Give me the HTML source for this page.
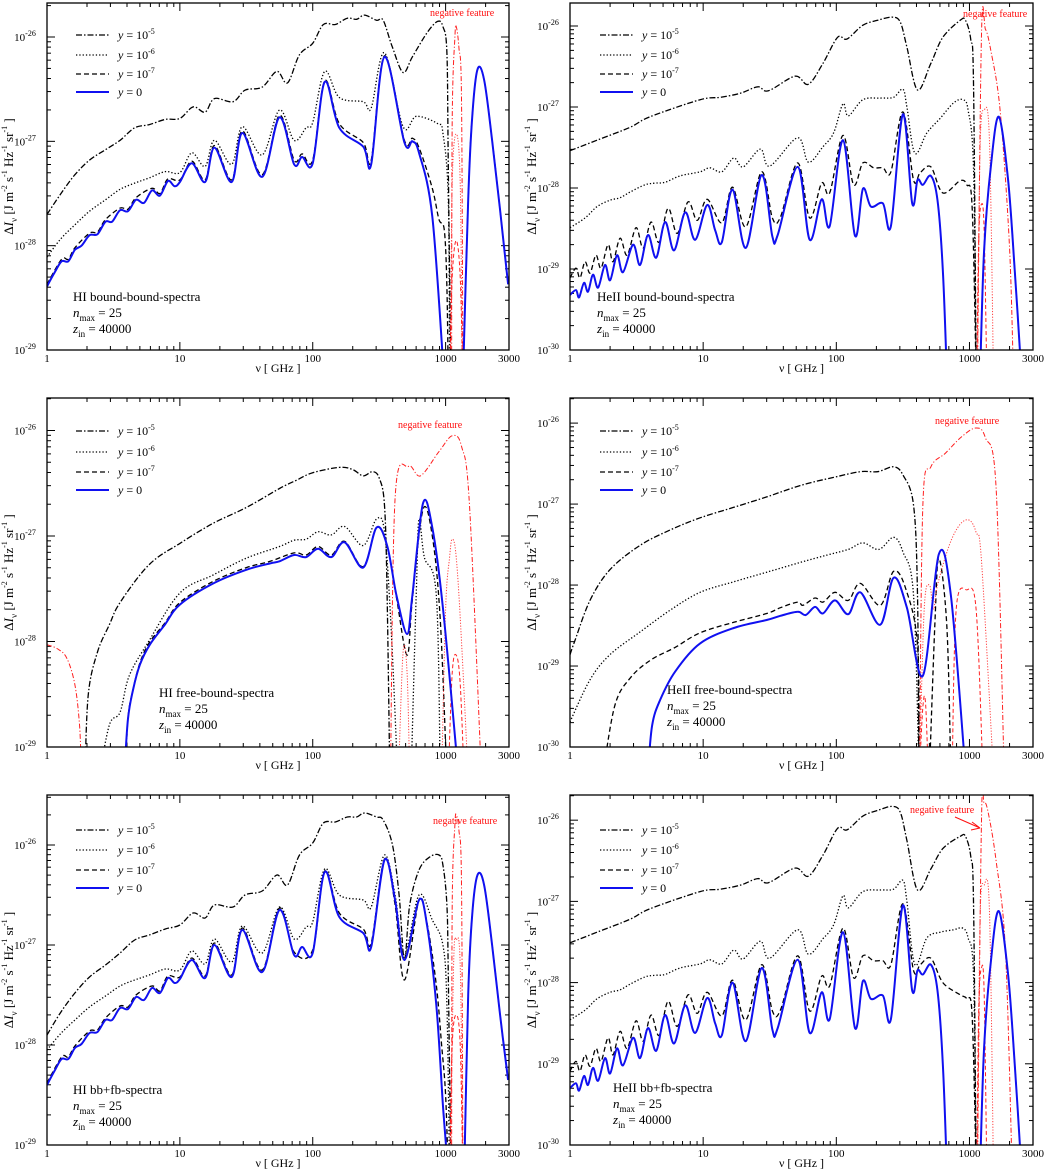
<!DOCTYPE html>
<html><head><meta charset="utf-8"><style>
html,body{margin:0;padding:0;background:#fff;}
svg{display:block;font-family:"Liberation Serif",serif;}
</style></head><body>
<svg id="fig" width="1044" height="1171" viewBox="0 0 1044 1171" xmlns="http://www.w3.org/2000/svg"></svg>
<script>
// ===== Data (log10 nu [GHz], log10 DeltaI) =====
// --- Top-left: HI bound-bound ---
const tlBlue=[[0,-28.39],[.06,-28.25],[.11,-28.15],[.16,-28.15],[.21,-28.04],[.26,-28.0],[.32,-27.9],[.38,-27.89],[.44,-27.77],[.49,-27.77],[.55,-27.66],[.61,-27.67],[.67,-27.56],[.73,-27.59],[.79,-27.47],[.85,-27.52],[.91,-27.38],[.96,-27.43],[1.0,-27.39],[1.09,-27.21],[1.19,-27.39],[1.26,-27.06],[1.39,-27.39],[1.47,-26.92],[1.62,-27.34],[1.75,-26.77],[1.86,-27.22],[1.92,-27.15],[2.0,-27.21],[2.09,-26.43],[2.2,-26.87],[2.38,-27.05],[2.44,-27.22],[2.54,-26.19],[2.69,-27.01],[2.75,-27.0],[2.8,-27.11],[2.9,-27.72],[2.99,-29.3]];
const tlRight=[[3.13,-29.3],[3.17,-27.56],[3.2,-26.77],[3.24,-26.31],[3.29,-26.41],[3.35,-26.99],[3.41,-27.66],[3.47,-28.37]];
const tlDashed=[[0,-28.37],[.11,-28.13],[.16,-28.13],[.21,-28.02],[.32,-27.88],[.38,-27.87],[.44,-27.75],[.55,-27.64],[.61,-27.65],[.67,-27.54],[.79,-27.45],[.85,-27.5],[.91,-27.36],[1.0,-27.37],[1.09,-27.19],[1.19,-27.37],[1.26,-27.04],[1.39,-27.37],[1.47,-26.9],[1.62,-27.32],[1.75,-26.75],[1.86,-27.18],[1.92,-27.12],[2.0,-27.18],[2.09,-26.42],[2.2,-26.83],[2.38,-27.01],[2.44,-27.18],[2.54,-26.18],[2.69,-26.99],[2.75,-26.97],[2.8,-27.06],[2.9,-27.45],[2.95,-27.75],[2.99,-27.85],[3.01,-28.4],[3.02,-29.3]];
const tlDashedNeg=[[3.03,-29.3],[3.05,-28.3],[3.08,-27.95],[3.11,-28.3],[3.13,-29.3]];
const tlDotted=[[0,-28.11],[.1,-27.94],[.21,-27.8],[.32,-27.67],[.44,-27.56],[.55,-27.46],[.66,-27.4],[.77,-27.35],[.89,-27.29],[1.0,-27.3],[1.09,-27.11],[1.19,-27.24],[1.26,-26.99],[1.39,-27.22],[1.47,-26.86],[1.62,-27.13],[1.75,-26.7],[1.86,-26.99],[1.95,-26.87],[2.0,-26.82],[2.09,-26.33],[2.2,-26.58],[2.38,-26.62],[2.44,-26.68],[2.54,-26.15],[2.68,-26.86],[2.78,-26.76],[2.94,-26.83],[2.98,-26.92],[3.02,-27.56],[3.03,-29.3]];
const tlDottedNeg=[[3.035,-29.3],[3.05,-27.4],[3.08,-26.93],[3.11,-27.4],[3.125,-29.3]];
const tlDashDot=[[0,-27.7],[.1,-27.51],[.21,-27.32],[.32,-27.18],[.44,-27.08],[.55,-26.99],[.66,-26.87],[.77,-26.84],[.89,-26.79],[1.0,-26.78],[1.1,-26.67],[1.19,-26.72],[1.26,-26.59],[1.4,-26.62],[1.49,-26.51],[1.62,-26.48],[1.73,-26.33],[1.81,-26.44],[1.9,-26.17],[2.0,-26.06],[2.08,-25.88],[2.17,-25.88],[2.26,-25.82],[2.33,-25.83],[2.39,-25.79],[2.48,-25.84],[2.53,-25.84],[2.6,-26.1],[2.68,-26.34],[2.75,-26.19],[2.86,-25.96],[2.94,-25.85],[2.98,-25.9],[3.01,-26.15],[3.02,-27.24],[3.04,-29.3]];
const tlDashDotNeg=[[3.045,-29.3],[3.05,-26.8],[3.07,-26.0],[3.08,-25.9],[3.1,-26.1],[3.12,-26.6],[3.13,-29.3]];

// --- Top-right: HeII bound-bound ---
const trBlue=[[0,-29.32],[.045,-29.26],[.068,-29.35],[.105,-29.17],[.135,-29.28],[.173,-29.07],[.211,-29.23],[.263,-28.95],[.301,-29.14],[.353,-28.83],[.398,-29.04],[.474,-28.7],[.526,-28.95],[.586,-28.58],[.647,-28.86],[.714,-28.42],[.782,-28.77],[.865,-28.3],[.94,-28.64],[1.03,-28.21],[1.09,-28.52],[1.14,-28.67],[1.22,-28.02],[1.32,-28.74],[1.44,-27.84],[1.52,-28.6],[1.56,-28.58],[1.71,-27.74],[1.8,-28.64],[1.89,-28.14],[1.95,-28.47],[2.05,-27.41],[2.14,-28.59],[2.2,-28.01],[2.26,-28.23],[2.35,-28.19],[2.41,-28.47],[2.5,-27.09],[2.57,-28.19],[2.61,-27.9],[2.65,-27.96],[2.71,-27.85],[2.76,-28.15],[2.8,-29.01],[2.83,-30.3]];
const trRight=[[3.08,-30.3],[3.11,-28.77],[3.16,-27.74],[3.22,-27.12],[3.29,-27.9],[3.34,-29.01],[3.39,-30.3]];
const trDashed=[[0,-29.11],[.045,-28.99],[.075,-29.11],[.113,-28.91],[.15,-29.05],[.195,-28.83],[.233,-28.99],[.286,-28.7],[.323,-28.91],[.376,-28.62],[.429,-28.83],[.496,-28.49],[.549,-28.74],[.609,-28.42],[.669,-28.67],[.737,-28.25],[.805,-28.56],[.887,-28.17],[.955,-28.4],[1.03,-28.14],[1.14,-28.43],[1.22,-27.99],[1.32,-28.48],[1.44,-27.8],[1.52,-28.37],[1.58,-28.36],[1.71,-27.69],[1.8,-28.37],[1.89,-27.94],[1.95,-28.06],[2.05,-27.35],[2.13,-27.96],[2.2,-27.69],[2.28,-27.75],[2.35,-27.75],[2.41,-27.8],[2.5,-27.06],[2.58,-27.9],[2.63,-27.81],[2.71,-27.74],[2.8,-28.06],[2.93,-27.91],[2.98,-27.96],[3.02,-28.23],[3.05,-30.3]];
const trDashedNeg=[[3.055,-30.3],[3.07,-28.6],[3.09,-28.2],[3.11,-28.5],[3.13,-30.3]];
const trDotted=[[0,-28.49],[.113,-28.37],[.203,-28.23],[.301,-28.15],[.376,-28.12],[.451,-28.05],[.564,-27.96],[.639,-27.94],[.714,-27.93],[.827,-27.85],[.977,-27.8],[1.05,-27.75],[1.14,-27.8],[1.23,-27.63],[1.3,-27.74],[1.43,-27.52],[1.5,-27.73],[1.71,-27.38],[1.79,-27.68],[1.9,-27.49],[1.98,-27.32],[2.05,-26.96],[2.09,-27.11],[2.2,-26.91],[2.33,-26.89],[2.43,-26.88],[2.5,-26.78],[2.53,-27.0],[2.59,-27.57],[2.68,-27.32],[2.78,-27.14],[2.88,-26.95],[2.95,-26.91],[2.99,-27.04],[3.03,-27.74],[3.05,-30.3]];
const trDottedNeg=[[3.06,-30.3],[3.08,-27.5],[3.11,-27.04],[3.15,-27.4],[3.18,-30.3]];
const trDashDot=[[0,-27.54],[.203,-27.41],[.451,-27.25],[.602,-27.12],[.977,-26.91],[1.13,-26.88],[1.28,-26.83],[1.41,-26.75],[1.49,-26.8],[1.69,-26.62],[1.79,-26.72],[1.9,-26.46],[2.01,-26.14],[2.08,-26.16],[2.2,-25.99],[2.31,-25.93],[2.42,-25.89],[2.48,-25.95],[2.53,-26.26],[2.61,-26.79],[2.71,-26.46],[2.8,-26.14],[2.93,-25.93],[2.97,-25.93],[3.01,-26.17],[3.03,-26.7],[3.05,-30.3]];
const trDashDotNeg=[[3.06,-30.3],[3.09,-26.1],[3.12,-26.04],[3.16,-26.3],[3.23,-27.04],[3.3,-28.7],[3.33,-30.3]];

// --- Middle-left: HI free-bound ---
const mlBlue=[[.58,-29.3],[.609,-28.74],[.647,-28.46],[.699,-28.22],[.774,-28.03],[.887,-27.84],[1.0,-27.65],[1.25,-27.45],[1.5,-27.32],[1.68,-27.26],[1.75,-27.24],[1.86,-27.18],[1.95,-27.2],[2.04,-27.12],[2.14,-27.2],[2.24,-27.06],[2.38,-27.3],[2.48,-26.92],[2.56,-27.09],[2.63,-27.56],[2.71,-27.93],[2.75,-27.56],[2.83,-26.69],[2.9,-26.92],[2.98,-27.68],[3.08,-29.03],[3.1,-29.3]];
const mlDashed=[[.59,-29.3],[.61,-28.72],[.65,-28.44],[.7,-28.2],[.77,-28.01],[.89,-27.82],[1.0,-27.63],[1.25,-27.43],[1.5,-27.3],[1.68,-27.24],[1.86,-27.16],[1.95,-27.18],[2.04,-27.1],[2.14,-27.18],[2.24,-27.05],[2.38,-27.29],[2.48,-26.92],[2.56,-27.09],[2.63,-27.58],[2.71,-28.13],[2.75,-27.6],[2.83,-26.75],[2.9,-27.0],[2.96,-27.8],[3.01,-29.3]];
const mlDashedNeg=[[3.02,-29.3],[3.05,-28.3],[3.08,-28.13],[3.11,-28.4],[3.14,-29.3]];
const mlDotted=[[.39,-29.3],[.47,-28.79],[.55,-28.67],[.62,-28.32],[.77,-27.99],[1.0,-27.54],[1.25,-27.37],[1.5,-27.21],[1.75,-27.1],[1.86,-27.04],[1.95,-27.03],[2.04,-26.96],[2.14,-26.99],[2.24,-26.91],[2.38,-27.09],[2.48,-26.84],[2.54,-26.96],[2.59,-27.87],[2.64,-29.3]];
const mlDottedNeg1=[[2.645,-29.3],[2.68,-28.1],[2.71,-28.3],[2.73,-29.3]];
const mlDotted2=[[2.74,-29.3],[2.78,-27.5],[2.8,-26.84],[2.84,-27.2],[2.93,-27.56],[2.96,-29.3]];
const mlDottedNeg2=[[2.97,-29.3],[3.0,-27.7],[3.03,-27.2],[3.05,-27.03],[3.08,-27.2],[3.12,-28.0],[3.17,-29.3]];
const mlDashDot=[[.285,-29.3],[.31,-28.51],[.38,-28.1],[.47,-27.84],[.55,-27.63],[.77,-27.27],[1.0,-27.07],[1.25,-26.88],[1.5,-26.73],[1.75,-26.55],[1.88,-26.47],[2.0,-26.4],[2.2,-26.35],[2.3,-26.37],[2.38,-26.43],[2.45,-26.39],[2.5,-26.45],[2.54,-26.71],[2.56,-27.56],[2.58,-29.3]];
const mlDashDotNeg=[[2.585,-29.3],[2.62,-26.64],[2.72,-26.34],[2.81,-26.43],[2.95,-26.2],[3.05,-26.05],[3.12,-26.15],[3.18,-26.71],[3.27,-29.3]];
const mlDashDotNegLow=[[0,-28.03],[.08,-28.07],[.15,-28.16],[.21,-28.41],[.245,-28.8],[.26,-29.3]];

// --- Middle-right: HeII free-bound ---
const mrBlue=[[.586,-30.3],[.617,-29.73],[.677,-29.42],[.789,-29.07],[.977,-28.72],[1.23,-28.53],[1.48,-28.43],[1.58,-28.38],[1.71,-28.33],[1.77,-28.37],[1.84,-28.27],[1.9,-28.35],[1.99,-28.19],[2.09,-28.36],[2.18,-28.09],[2.33,-28.49],[2.43,-27.91],[2.53,-28.28],[2.65,-29.12],[2.77,-27.62],[2.86,-28.12],[2.97,-30.3]];
const mrDashed=[[.25,-30.3],[.338,-29.48],[.451,-29.15],[.602,-28.93],[.789,-28.77],[.977,-28.59],[1.23,-28.46],[1.48,-28.35],[1.58,-28.28],[1.71,-28.21],[1.75,-28.25],[1.84,-28.16],[1.9,-28.21],[1.99,-28.09],[2.09,-28.19],[2.18,-27.98],[2.33,-28.25],[2.43,-27.83],[2.52,-28.04],[2.61,-28.74],[2.62,-30.3]];
const mrDashedNeg1=[[2.625,-30.3],[2.65,-29.5],[2.67,-29.45],[2.69,-30.3]];
const mrDashed2=[[2.7,-30.3],[2.74,-28.5],[2.77,-27.67],[2.83,-28.5],[2.86,-30.3]];
const mrDashedNeg2=[[2.87,-30.3],[2.9,-28.3],[2.98,-28.06],[3.05,-28.3],[3.1,-30.3]];
const mrDotted=[[0,-29.69],[.15,-29.17],[.3,-28.86],[.526,-28.58],[.752,-28.31],[.977,-28.09],[1.23,-27.96],[1.48,-27.84],[1.73,-27.72],[1.93,-27.63],[2.09,-27.56],[2.2,-27.48],[2.32,-27.56],[2.43,-27.41],[2.5,-27.59],[2.58,-28.12],[2.62,-30.3]];
const mrDottedNeg=[[2.625,-30.3],[2.66,-28.3],[2.7,-28.0],[2.73,-28.3],[2.76,-28.0],[2.85,-27.5],[2.93,-27.25],[3.0,-27.2],[3.05,-27.35],[3.09,-27.7],[3.18,-30.3]];
const mrDashDot=[[0,-28.86],[.038,-28.68],[.15,-28.19],[.3,-27.81],[.526,-27.51],[.752,-27.32],[.977,-27.17],[1.23,-27.04],[1.48,-26.91],[1.73,-26.77],[1.98,-26.67],[2.18,-26.6],[2.31,-26.6],[2.43,-26.54],[2.5,-26.64],[2.58,-27.01],[2.61,-28.12],[2.62,-30.3]];
const mrDashDotNeg=[[2.625,-30.3],[2.65,-27.0],[2.71,-26.54],[2.82,-26.37],[2.94,-26.17],[3.05,-26.06],[3.12,-26.18],[3.2,-26.8],[3.26,-30.3]];

// --- Bottom-left: HI bb+fb ---
const blBlue=[[0,-28.4],[.06,-28.25],[.11,-28.14],[.16,-28.14],[.21,-28.03],[.26,-27.99],[.32,-27.88],[.38,-27.87],[.44,-27.75],[.49,-27.75],[.55,-27.63],[.61,-27.64],[.67,-27.52],[.73,-27.55],[.79,-27.43],[.85,-27.48],[.91,-27.33],[.96,-27.38],[1.0,-27.34],[1.09,-27.15],[1.19,-27.33],[1.26,-27.0],[1.39,-27.32],[1.47,-26.85],[1.62,-27.27],[1.75,-26.65],[1.86,-27.1],[1.92,-27.02],[2.0,-27.08],[2.09,-26.27],[2.2,-26.72],[2.38,-26.88],[2.44,-27.02],[2.54,-26.15],[2.62,-26.55],[2.69,-27.15],[2.8,-26.55],[2.86,-26.8],[2.93,-27.6],[2.98,-28.6],[3.02,-29.3]];
const blRight=[[3.14,-29.3],[3.17,-27.5],[3.2,-26.7],[3.24,-26.3],[3.29,-26.4],[3.35,-27.0],[3.41,-27.7],[3.47,-28.35]];
const blDashed=[[0,-28.38],[.11,-28.12],[.16,-28.12],[.21,-28.01],[.32,-27.86],[.38,-27.85],[.44,-27.73],[.55,-27.61],[.61,-27.62],[.67,-27.5],[.79,-27.41],[.85,-27.46],[.91,-27.31],[1.0,-27.32],[1.09,-27.13],[1.19,-27.31],[1.26,-26.98],[1.39,-27.3],[1.47,-26.83],[1.62,-27.25],[1.75,-26.63],[1.86,-27.07],[2.0,-27.05],[2.09,-26.26],[2.2,-26.68],[2.38,-26.84],[2.44,-26.98],[2.54,-26.14],[2.62,-26.6],[2.69,-27.35],[2.8,-26.55],[2.86,-26.78],[2.93,-27.4],[2.97,-28.0],[3.0,-28.5],[3.02,-29.3]];
const blDashedNeg=[[3.03,-29.3],[3.05,-28.0],[3.08,-27.7],[3.11,-28.0],[3.13,-29.3]];
const blDotted=[[0,-28.05],[.1,-27.89],[.21,-27.75],[.32,-27.62],[.44,-27.51],[.55,-27.41],[.66,-27.35],[.77,-27.3],[.89,-27.24],[1.0,-27.25],[1.09,-27.06],[1.19,-27.19],[1.26,-26.94],[1.39,-27.17],[1.47,-26.81],[1.62,-27.08],[1.75,-26.62],[1.86,-26.94],[1.95,-26.82],[2.0,-26.77],[2.09,-26.24],[2.2,-26.5],[2.38,-26.55],[2.44,-26.62],[2.54,-26.1],[2.62,-26.5],[2.69,-27.1],[2.8,-26.5],[2.9,-26.75],[2.98,-27.0],[3.01,-27.6],[3.03,-29.3]];
const blDottedNeg=[[3.035,-29.3],[3.06,-27.2],[3.08,-26.95],[3.11,-27.2],[3.13,-29.3]];
const blDashDot=[[0,-27.9],[.1,-27.68],[.21,-27.48],[.32,-27.32],[.44,-27.2],[.55,-27.08],[.66,-26.95],[.77,-26.9],[.89,-26.84],[1.0,-26.8],[1.1,-26.68],[1.19,-26.73],[1.26,-26.6],[1.4,-26.62],[1.49,-26.5],[1.62,-26.46],[1.73,-26.3],[1.81,-26.4],[1.9,-26.1],[2.0,-25.98],[2.08,-25.78],[2.17,-25.77],[2.26,-25.72],[2.33,-25.72],[2.39,-25.68],[2.48,-25.72],[2.53,-25.75],[2.6,-26.0],[2.65,-26.5],[2.69,-27.15],[2.73,-26.6],[2.8,-26.25],[2.88,-26.12],[2.95,-26.1],[2.98,-26.2],[3.01,-26.6],[3.02,-27.3],[3.04,-29.3]];
const blDashDotNeg=[[3.045,-29.3],[3.05,-26.6],[3.07,-25.8],[3.08,-25.7],[3.1,-25.85],[3.12,-26.4],[3.13,-29.3]];

// --- Bottom-right: HeII bb+fb ---
const brBlue=[[0,-29.3],[.045,-29.24],[.068,-29.33],[.105,-29.15],[.135,-29.26],[.173,-29.05],[.211,-29.21],[.263,-28.93],[.301,-29.12],[.353,-28.81],[.398,-29.02],[.474,-28.68],[.526,-28.93],[.586,-28.56],[.647,-28.84],[.714,-28.4],[.782,-28.75],[.865,-28.28],[.94,-28.62],[1.03,-28.19],[1.09,-28.5],[1.14,-28.65],[1.22,-28.0],[1.32,-28.72],[1.44,-27.82],[1.52,-28.58],[1.56,-28.56],[1.71,-27.72],[1.8,-28.62],[1.89,-28.12],[1.95,-28.45],[2.05,-27.38],[2.14,-28.56],[2.2,-27.98],[2.26,-28.2],[2.35,-28.16],[2.41,-28.45],[2.5,-27.05],[2.57,-28.1],[2.61,-27.85],[2.65,-27.9],[2.71,-27.78],[2.76,-28.1],[2.8,-29.0],[2.83,-30.3]];
const brRight=[[3.08,-30.3],[3.11,-28.8],[3.16,-27.75],[3.22,-27.12],[3.29,-27.9],[3.34,-29.0],[3.39,-30.3]];
const brDashed=[[0,-29.09],[.045,-28.97],[.075,-29.09],[.113,-28.89],[.15,-29.03],[.195,-28.81],[.233,-28.97],[.286,-28.68],[.323,-28.89],[.376,-28.6],[.429,-28.81],[.496,-28.47],[.549,-28.72],[.609,-28.4],[.669,-28.65],[.737,-28.23],[.805,-28.54],[.887,-28.15],[.955,-28.38],[1.03,-28.12],[1.14,-28.41],[1.22,-27.97],[1.32,-28.46],[1.44,-27.78],[1.52,-28.35],[1.58,-28.34],[1.71,-27.67],[1.8,-28.35],[1.89,-27.92],[1.95,-28.04],[2.05,-27.33],[2.13,-27.94],[2.2,-27.67],[2.28,-27.73],[2.35,-27.73],[2.41,-27.78],[2.5,-27.03],[2.58,-27.85],[2.63,-27.78],[2.71,-27.7],[2.8,-28.0],[2.93,-28.15],[2.98,-28.2],[3.02,-28.4],[3.05,-30.3]];
const brDashedNeg=[[3.055,-30.3],[3.07,-28.3],[3.09,-27.82],[3.11,-28.1],[3.13,-30.3]];
const brDotted=[[0,-28.46],[.113,-28.34],[.203,-28.2],[.301,-28.12],[.376,-28.09],[.451,-28.02],[.564,-27.93],[.639,-27.91],[.714,-27.9],[.827,-27.82],[.977,-27.77],[1.05,-27.72],[1.14,-27.77],[1.23,-27.6],[1.3,-27.71],[1.43,-27.49],[1.5,-27.7],[1.71,-27.35],[1.79,-27.65],[1.9,-27.46],[1.98,-27.29],[2.05,-26.93],[2.09,-27.08],[2.2,-26.88],[2.33,-26.86],[2.43,-26.85],[2.5,-26.74],[2.53,-27.0],[2.59,-27.78],[2.68,-27.45],[2.78,-27.38],[2.88,-27.35],[2.95,-27.33],[2.99,-27.45],[3.03,-27.9],[3.05,-30.3]];
const brDottedNeg=[[3.06,-30.3],[3.08,-27.2],[3.11,-26.8],[3.15,-27.1],[3.18,-30.3]];
const brDashDot=[[0,-27.51],[.203,-27.38],[.451,-27.22],[.602,-27.09],[.977,-26.88],[1.13,-26.85],[1.28,-26.8],[1.41,-26.72],[1.49,-26.77],[1.69,-26.59],[1.79,-26.69],[1.9,-26.43],[2.01,-26.1],[2.08,-26.12],[2.2,-25.95],[2.31,-25.88],[2.42,-25.83],[2.48,-25.9],[2.53,-26.25],[2.61,-26.86],[2.71,-26.6],[2.8,-26.35],[2.93,-26.2],[2.97,-26.2],[3.01,-26.45],[3.03,-27.0],[3.05,-30.3]];
const brDashDotNeg=[[3.06,-30.3],[3.09,-26.0],[3.11,-25.79],[3.14,-25.9],[3.2,-26.5],[3.27,-27.6],[3.32,-30.3]];

// ===== Rendering =====
const NS='http://www.w3.org/2000/svg';
const svg=document.getElementById('fig');
function mk(tag,attrs,parent){const e=document.createElementNS(NS,tag);for(const k in attrs)e.setAttribute(k,attrs[k]);(parent||svg).appendChild(e);return e;}
const STY={
 blue:{stroke:'#1010f0',w:2,dash:''},
 dashed:{stroke:'#000',w:1.3,dash:'5,3'},
 dotted:{stroke:'#000',w:1.3,dash:'1.3,2'},
 dashdot:{stroke:'#000',w:1.3,dash:'6,2,1.5,2'},
 rdashed:{stroke:'#ff2020',w:1,dash:'4,2.5'},
 rdotted:{stroke:'#ff4040',w:1,dash:'1.2,1.6'},
 rdashdot:{stroke:'#ff2020',w:1,dash:'5,2,1.2,2'}
};
const XMAX=Math.log10(3000);
const panels=[
 {id:'hi-bb',L:47,R:509,T:3,B:350,ymin:-29,ymax:-25.674,title:'HI bound-bound-spectra',tx:73,ty:297,lx:76,ly:[35,55,74,92],neg:[430,16],
  series:[[tlDashDot,'dashdot'],[tlDotted,'dotted'],[tlDashed,'dashed'],[tlDashDotNeg,'rdashdot'],[tlDottedNeg,'rdotted'],[tlDashedNeg,'rdashed'],[tlRight,'dashdot'],[tlRight,'dotted'],[tlBlue,'blue'],[tlRight,'blue']]},
 {id:'heii-bb',L:570,R:1033,T:3,B:350,ymin:-30,ymax:-25.716,title:'HeII bound-bound-spectra',tx:597,ty:297,lx:600,ly:[35,55,74,92],neg:[963,17],
  series:[[trDashDot,'dashdot'],[trDotted,'dotted'],[trDashed,'dashed'],[trDashDotNeg,'rdashdot'],[trDottedNeg,'rdotted'],[trDashedNeg,'rdashed'],[trRight,'dashed'],[trBlue,'blue'],[trRight,'blue']]},
 {id:'hi-fb',L:47,R:509,T:398,B:747,ymin:-29,ymax:-25.692,title:'HI free-bound-spectra',tx:159,ty:693,lx:76,ly:[431,452,472,490],neg:[398,428],
  series:[[mlDashDot,'dashdot'],[mlDotted,'dotted'],[mlDotted2,'dotted'],[mlDashed,'dashed'],[mlDashDotNeg,'rdashdot'],[mlDashDotNegLow,'rdashdot'],[mlDottedNeg1,'rdotted'],[mlDottedNeg2,'rdotted'],[mlDashedNeg,'rdashed'],[mlBlue,'blue']]},
 {id:'heii-fb',L:570,R:1033,T:398,B:747,ymin:-30,ymax:-25.69,title:'HeII free-bound-spectra',tx:667,ty:690,lx:600,ly:[431,452,472,490],neg:[935,424],
  series:[[mrDashDot,'dashdot'],[mrDotted,'dotted'],[mrDashed,'dashed'],[mrDashed2,'dashed'],[mrDashDotNeg,'rdashdot'],[mrDottedNeg,'rdotted'],[mrDashedNeg1,'rdashed'],[mrDashedNeg2,'rdashed'],[mrBlue,'blue']]},
 {id:'hi-bbfb',L:47,R:509,T:795,B:1145,ymin:-29,ymax:-25.5,title:'HI bb+fb-spectra',tx:73,ty:1090,lx:76,ly:[830,850,870,888],neg:[433,824],
  series:[[blDashDot,'dashdot'],[blDotted,'dotted'],[blDashed,'dashed'],[blDashDotNeg,'rdashdot'],[blDottedNeg,'rdotted'],[blDashedNeg,'rdashed'],[blRight,'dashdot'],[blRight,'dotted'],[blBlue,'blue'],[blRight,'blue']]},
 {id:'heii-bbfb',L:570,R:1033,T:795,B:1145,ymin:-30,ymax:-25.69,title:'HeII bb+fb-spectra',tx:613,ty:1088,lx:600,ly:[830,850,870,888],neg:[910,813],arrow:true,
  series:[[brDashDot,'dashdot'],[brDotted,'dotted'],[brDashed,'dashed'],[brDashDotNeg,'rdashdot'],[brDottedNeg,'rdotted'],[brDashedNeg,'rdashed'],[brRight,'dashed'],[brBlue,'blue'],[brRight,'blue']]}
];
function smooth(pts){
 let d='M'+pts[0][0].toFixed(1)+','+pts[0][1].toFixed(1);
 for(let i=0;i<pts.length-1;i++){
  const p0=pts[i-1]||pts[i],p1=pts[i],p2=pts[i+1],p3=pts[i+2]||p2;
  const c1=[p1[0]+(p2[0]-p0[0])/6,p1[1]+(p2[1]-p0[1])/6];
  const c2=[p2[0]-(p3[0]-p1[0])/6,p2[1]-(p3[1]-p1[1])/6];
  d+=' C'+c1[0].toFixed(1)+','+c1[1].toFixed(1)+' '+c2[0].toFixed(1)+','+c2[1].toFixed(1)+' '+p2[0].toFixed(1)+','+p2[1].toFixed(1);
 }
 return d;
}
function sup(t,base,exp){
 const s1=mk('tspan',{},t);s1.textContent=base;
 const s2=mk('tspan',{'font-size':'8','dy':'-5'},t);s2.textContent=exp;
}
panels.forEach((p,pi)=>{
 const g=mk('g',{});
 
 
 const sx=v=>p.L+(v/XMAX)*(p.R-p.L);
 const sy=v=>p.B-(v-p.ymin)/(p.ymax-p.ymin)*(p.B-p.T);
 const cp=mk('clipPath',{id:'clip'+pi},g);
 mk('rect',{x:p.L,y:p.T,width:p.R-p.L,height:p.B-p.T},cp);
 const tg=mk('g',{stroke:'#000','stroke-width':1},g);
 
 
 const xt=[];for(let d=0;d<4;d++)for(let m=1;m<10;m++){const v=m*Math.pow(10,d);if(v<=3000)xt.push(v);}
 xt.forEach(v=>{const x=sx(Math.log10(v));const maj=[1,10,100,1000].includes(v);const len=maj?8:4;
  mk('line',{x1:x,y1:p.B,x2:x,y2:p.B-len},tg);mk('line',{x1:x,y1:p.T,x2:x,y2:p.T+len},tg);});
 for(let d=Math.floor(p.ymin);d<Math.ceil(p.ymax);d++)for(let m=1;m<10;m++){const v=d+Math.log10(m);if(v<p.ymin||v>p.ymax)continue;const y=sy(v);const len=m==1?8:4;
  mk('line',{x1:p.L,y1:y,x2:p.L+len,y2:y},tg);mk('line',{x1:p.R,y1:y,x2:p.R-len,y2:y},tg);}
 [1,10,100,1000,3000].forEach(v=>{const t=mk('text',{x:sx(Math.log10(v)),y:p.B+12,'font-size':'11','text-anchor':'middle'},g);t.textContent=String(v);
  
  });
 for(let d=Math.ceil(p.ymin);d<=Math.floor(p.ymax);d++){const t=mk('text',{x:p.L-22,y:sy(d)+4,'font-size':'11','text-anchor':'middle'},g);sup(t,'10',String(d));
  
  }
 const xl=mk('text',{x:(p.L+p.R)/2,y:p.B+22,'font-size':'12','text-anchor':'middle'},g);xl.textContent='ν [ GHz ]';
 
 
 const cy=(p.T+p.B)/2,cx=p.L-34;
 const yl=mk('text',{x:cx,y:cy,'font-size':'13','text-anchor':'middle',transform:`rotate(-90 ${cx} ${cy})`},g);
 
 
 let s=mk('tspan',{},yl);s.textContent='Δ';
 s=mk('tspan',{'font-style':'italic'},yl);s.textContent='I';
 s=mk('tspan',{'font-size':'9','dy':'4'},yl);s.textContent='ν';
 s=mk('tspan',{'dy':'-4'},yl);s.textContent='  [J m';
 [['-2',' s'],['-1',' Hz'],['-1',' sr'],['-1',' ]']].forEach(([e,n])=>{let a=mk('tspan',{'font-size':'8','dy':'-6'},yl);a.textContent=e;let b=mk('tspan',{'dy':'6'},yl);b.textContent=n;});
 const sg=mk('g',{'clip-path':`url(#clip${pi})`,fill:'none'},g);
 p.series.forEach(([data,st])=>{const S=STY[st];
  const pts=data.map(d=>[sx(d[0]),sy(d[1])]);
  const el=mk('path',{d:smooth(pts),stroke:S.stroke,'stroke-width':S.w,'stroke-dasharray':S.dash,'stroke-linejoin':'round'},sg);
  
  
 });
 const fr=mk('rect',{x:p.L,y:p.T,width:p.R-p.L,height:p.B-p.T,fill:'none',stroke:'#000','stroke-width':1.3},g);
 
 
 const lg=mk('g',{},g);
 
 
 [['dashdot','-5'],['dotted','-6'],['dashed','-7'],['blue',null]].forEach(([st,e],i)=>{const S=STY[st];const y=p.ly[i];
  const ln=mk('line',{x1:p.lx,y1:y,x2:p.lx+33,y2:y,stroke:S.stroke,'stroke-width':S.w,'stroke-dasharray':S.dash},lg);
  
  
  const t=mk('text',{x:p.lx+42,y:y+4,'font-size':'12'},lg);
  
  
  let a=mk('tspan',{'font-style':'italic'},t);a.textContent='y';
  if(e){sup(t,' = 10',e);}else{let b=mk('tspan',{},t);b.textContent=' = 0';}
 });
 const an=mk('g',{},g);
 
 
 let t1=mk('text',{x:p.tx,y:p.ty+4,'font-size':'13'},an);t1.textContent=p.title;
 let t2=mk('text',{x:p.tx,y:p.ty+20,'font-size':'13'},an);
 let a1=mk('tspan',{'font-style':'italic'},t2);a1.textContent='n';
 let a2=mk('tspan',{'font-size':'9','dy':'4'},t2);a2.textContent='max';
 let a3=mk('tspan',{'dy':'-4'},t2);a3.textContent=' = 25';
 let t3=mk('text',{x:p.tx,y:p.ty+36,'font-size':'13'},an);
 let b1=mk('tspan',{'font-style':'italic'},t3);b1.textContent='z';
 let b2=mk('tspan',{'font-size':'9','dy':'4'},t3);b2.textContent='in';
 let b3=mk('tspan',{'dy':'-4'},t3);b3.textContent=' = 40000';
 const nf=mk('text',{x:p.neg[0],y:p.neg[1],'font-size':'10',fill:'#ff1010'},g);nf.textContent='negative feature';
 
 
 if(p.arrow){
  const ar=mk('path',{d:'M955,817 L980,828 M980,828 L972,822 M980,828 L971,830',stroke:'#ff1010','stroke-width':1,fill:'none'},g);
  
  
 }
});
</script>
</body></html>
